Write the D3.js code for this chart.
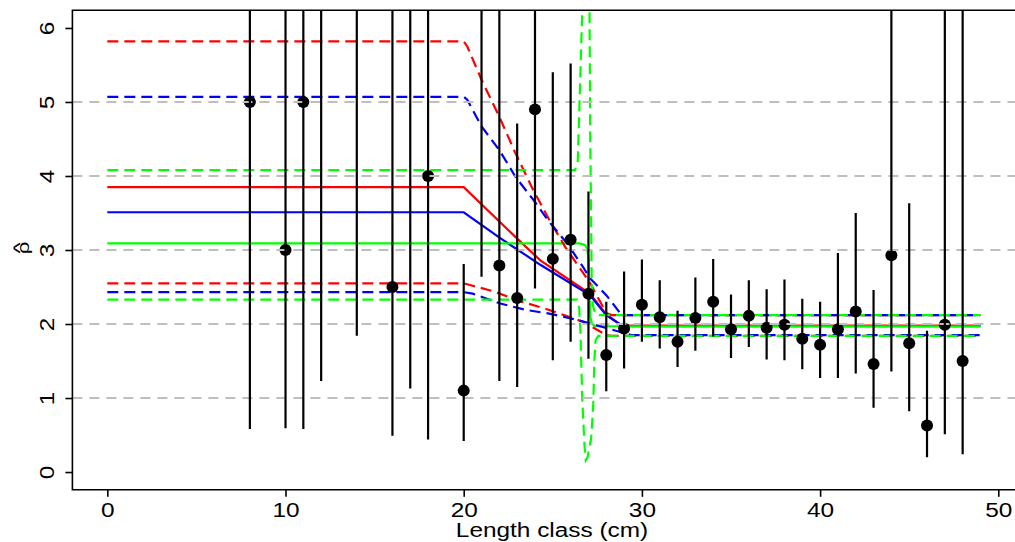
<!DOCTYPE html>
<html>
<head>
<meta charset="utf-8">
<script src="https://cdn.jsdelivr.net/npm/d3@7"></script>
<style>
  html, body { margin: 0; padding: 0; background: #ffffff; }
  svg { display: block; }
  text { font-family: "Liberation Sans", Arial, sans-serif; fill: #000; }
</style>
</head>
<body>
<svg id="chart" width="1015" height="542"></svg>
<script>
// ---------- data ----------
const lengthClass = [8, 10, 11, 12, 14, 16, 17, 18, 20, 21, 22, 23, 24, 25, 26, 27, 28, 29, 30, 31, 32, 33, 34, 35, 36, 37, 38, 39, 40, 41, 42, 43, 44, 45, 46, 47, 48];
const rhoHat   = [5.0, 3.0, 5.0, 7.0, 7.5, 2.5, 7.0, 4.0, 1.1, 6.8, 2.79, 2.35, 4.9, 2.88, 3.14, 2.41, 1.58, 1.94, 2.26, 2.09, 1.76, 2.08, 2.30, 1.93, 2.11, 1.95, 1.99, 1.80, 1.72, 1.93, 2.17, 1.46, 2.93, 1.74, 0.63, 1.99, 1.50];
const ciLow    = [0.58, 0.59, 0.58, 1.23, 1.84, 0.49, 1.13, 0.44, 0.42, 2.64, 1.23, 1.15, 2.48, 1.51, 1.76, 1.53, 1.09, 1.40, 1.76, 1.67, 1.42, 1.64, 1.83, 1.54, 1.69, 1.52, 1.51, 1.39, 1.27, 1.27, 1.33, 0.87, 1.36, 0.82, 0.20, 0.51, 0.24];
const ciHigh   = [12, 12, 12, 12, 12, 12, 12, 12, 2.81, 12, 12, 4.71, 12, 5.40, 5.52, 3.79, 2.30, 2.71, 2.87, 2.59, 2.18, 2.63, 2.88, 2.40, 2.59, 2.47, 2.60, 2.34, 2.30, 2.96, 3.50, 2.46, 12, 3.63, 1.91, 12, 12];

const redFit   = [[0,3.85],[20,3.85],[22.97,3.16],[24.3,2.86],[27.08,2.41],[28.0,2.13],[28.8,1.99],[29.2,1.98],[49,1.98]];
const redUpper = [[0,5.82],[20,5.82],[20.2,5.75],[21.0,5.30],[22.0,4.80],[22.9,4.31],[23.9,3.81],[24.8,3.41],[25.7,3.04],[27.1,2.55],[28.0,2.15],[28.3,2.12],[49,2.12]];
const redLower = [[0,2.55],[20,2.55],[20.3,2.53],[21.7,2.44],[23.0,2.32],[24.8,2.19],[26.7,2.03],[28.0,1.85],[28.3,1.84],[49,1.84]];

const blueFit   = [[0,3.51],[20,3.51],[22.05,3.16],[24.3,2.80],[27.08,2.39],[28.0,2.12],[28.8,1.99],[29.2,1.97],[49,1.97]];
const blueUpper = [[0,5.07],[20,5.07],[20.2,5.03],[21.0,4.67],[22.0,4.35],[22.9,3.99],[23.9,3.68],[24.8,3.38],[25.8,3.09],[26.7,2.77],[27.08,2.62],[28.0,2.39],[28.8,2.14],[29.1,2.12],[49,2.12]];
const blueLower = [[0,2.43],[20,2.43],[20.5,2.41],[22.0,2.28],[23.5,2.19],[24.8,2.14],[26.3,2.06],[27.8,1.96],[29.1,1.87],[29.4,1.85],[49,1.85]];

const greenFit   = [[0,3.09],[26.5,3.09],[26.8,3.07],[26.92,3.02],[27.0,2.9],[27.1,2.1],[27.2,2.0],[27.4,1.97],[49,1.97]];
const greenUpper = [[0,4.08],[26.25,4.08],[26.4,4.2],[26.5,5.0],[26.66,6.3],[26.7,7.0],[27.0,7.0],[27.06,6.24],[27.1,4.5],[27.15,3.5],[27.18,2.6],[27.25,2.25],[27.4,2.13],[27.6,2.12],[49,2.12]];
const greenLower = [[0,2.33],[26.35,2.33],[26.48,2.22],[26.55,1.9],[26.65,1.0],[26.78,0.35],[26.85,0.16],[26.95,0.2],[27.15,0.45],[27.27,0.9],[27.33,1.5],[27.4,1.78],[27.55,1.84],[49,1.84]];

const xTicks = [0, 10, 20, 30, 40, 50];
const yTicks = [0, 1, 2, 3, 4, 5, 6];
const gridLevels = [1, 2, 3, 4, 5];
const xTitle = "Length class (cm)";
const yTitleLetter = "\u03C1";
const yTitleHat = "^";

// ---------- layout ----------
const X0 = 72.4, X1 = 1015.4, Y0 = 10.2, Y1 = 489.8;
const x = d3.scaleLinear().domain([-1.96, 50.96]).range([X0, X1]);
const y = d3.scaleLinear().domain([-0.24, 6.24]).range([Y1, Y0]);

const svg = d3.select("#chart");
svg.append("defs").append("clipPath").attr("id", "plotclip")
  .append("rect").attr("x", X0).attr("y", Y0).attr("width", X1 - X0).attr("height", Y1 - Y0);

const plot = svg.append("g").attr("clip-path", "url(#plotclip)");
const line = d3.line().x(d => x(d[0])).y(d => y(d[1]));

const curves = [
  { data: redFit,   color: "#ff0000", dash: null },
  { data: blueFit,  color: "#0000ff", dash: null },
  { data: greenFit, color: "#00ff00", dash: null },
  { data: redUpper,   color: "#ff0000", dash: "11,6" },
  { data: redLower,   color: "#ff0000", dash: "11,6" },
  { data: blueUpper,  color: "#0000ff", dash: "11,6" },
  { data: blueLower,  color: "#0000ff", dash: "11,6" },
  { data: greenUpper, color: "#00ff00", dash: "11,6" },
  { data: greenLower, color: "#00ff00", dash: "11,6" }
];
plot.append("g").selectAll("path").data(curves).join("path")
  .attr("d", d => line(d.data))
  .attr("fill", "none")
  .attr("stroke", d => d.color)
  .attr("stroke-width", 2.2)
  .attr("stroke-dasharray", d => d.dash);

// points
const pts = lengthClass.map((lc, i) => ({ lc, v: rhoHat[i], lo: ciLow[i], hi: ciHigh[i] }));
plot.append("g").selectAll("circle").data(pts).join("circle")
  .attr("cx", d => x(d.lc)).attr("cy", d => y(d.v)).attr("r", 6).attr("fill", "#000");

// grid
plot.append("g").selectAll("line").data(gridLevels).join("line")
  .attr("x1", X0).attr("x2", X1)
  .attr("y1", d => y(d)).attr("y2", d => y(d))
  .attr("stroke", "#bebebe").attr("stroke-width", 2).attr("stroke-dasharray", "10,7");

// error bars
plot.append("g").selectAll("line").data(pts).join("line")
  .attr("x1", d => x(d.lc)).attr("x2", d => x(d.lc))
  .attr("y1", d => y(d.lo)).attr("y2", d => y(d.hi))
  .attr("stroke", "#000").attr("stroke-width", 2.2);

// box
svg.append("path")
  .attr("d", `M${X1},${Y0}H${X0}V${Y1}H${X1}`)
  .attr("fill", "none").attr("stroke", "#000").attr("stroke-width", 1.6);

// axes
const fs = 19.5;
const xAxis = svg.append("g").attr("transform", `translate(0,${Y1})`)
  .call(d3.axisBottom(x).tickValues(xTicks).tickFormat(d3.format("d")).tickSize(7).tickSizeOuter(0));
xAxis.select(".domain").remove();
xAxis.selectAll(".tick line").attr("stroke", "#000").attr("stroke-width", 1.6);
xAxis.selectAll(".tick text")
  .attr("y", null).attr("dy", null)
  .attr("transform", "translate(0,26.9) scale(1.25,1)")
  .attr("text-anchor", "middle")
  .style("font-size", fs + "px").style("font-family", '"Liberation Sans", Arial, sans-serif');

const yAxis = svg.append("g").attr("transform", `translate(${X0},0)`)
  .call(d3.axisLeft(y).tickValues(yTicks).tickFormat(d3.format("d")).tickSize(7).tickSizeOuter(0));
yAxis.select(".domain").remove();
yAxis.selectAll(".tick line").attr("stroke", "#000").attr("stroke-width", 1.6);
yAxis.selectAll(".tick text")
  .attr("x", null).attr("dy", null)
  .attr("transform", "translate(-18.9,0) rotate(-90) scale(1.25,1)")
  .attr("text-anchor", "middle")
  .style("font-size", fs + "px").style("font-family", '"Liberation Sans", Arial, sans-serif');

// titles
svg.append("text")
  .attr("transform", "translate(552,536.7) scale(1.25,1)")
  .attr("text-anchor", "middle")
  .style("font-size", fs + "px")
  .text(xTitle);

const yt = svg.append("g").attr("transform", "translate(28.6,248) rotate(-90)");
yt.append("text")
  .attr("transform", "scale(1.4,1)")
  .attr("text-anchor", "middle")
  .style("font-size", "16px")
  .text(yTitleLetter);
yt.append("text")
  .attr("transform", "translate(0,-2.5) scale(1.25,1)")
  .attr("text-anchor", "middle")
  .style("font-size", "19px")
  .text(yTitleHat);
</script>
</body>
</html>
